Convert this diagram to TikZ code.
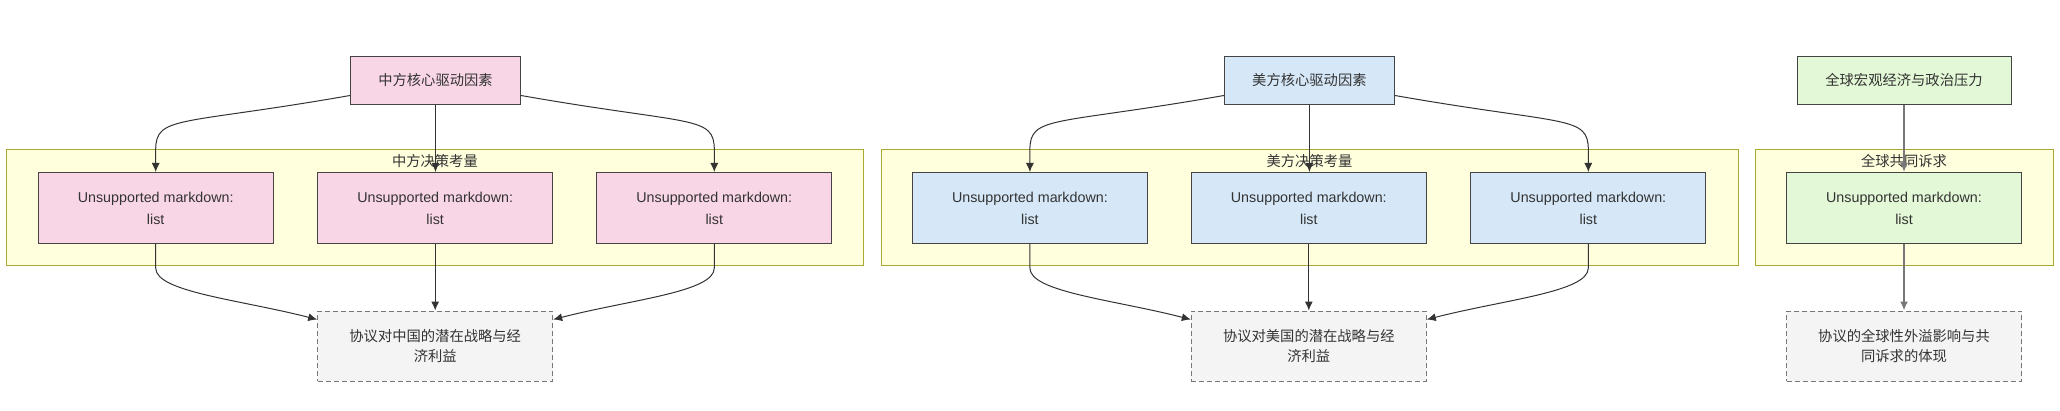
\documentclass[tikz,border=0pt]{standalone}
\usepackage{fontspec}
\setmainfont{Liberation Sans}
\newfontfamily\cjk{Noto Sans CJK SC}
\usetikzlibrary{arrows.meta,calc}
\definecolor{pinkfill}{HTML}{F9D6E6}
\definecolor{bluefill}{HTML}{D6E8F8}
\definecolor{greenfill}{HTML}{E3F8D6}
\definecolor{greyfill}{HTML}{F4F4F4}
\definecolor{clusterfill}{HTML}{FFFFDE}
\definecolor{clusterline}{HTML}{AAAA33}
\definecolor{nodeline}{HTML}{444444}
\definecolor{txt}{HTML}{333333}
\definecolor{edgeline}{HTML}{333333}
\definecolor{edgegrey}{HTML}{777777}
\tikzset{
  basebox/.style={rectangle, draw=nodeline, line width=0.5pt, inner sep=0pt, text=txt,
    font=\fontsize{7.15pt}{11pt}\selectfont, align=center},
  topbox/.style={basebox, minimum width=85pt, minimum height=24pt},
  listbox/.style={basebox, minimum width=117.5pt, minimum height=35.5pt},
  resultbox/.style={basebox, draw=edgegrey, dashed, dash pattern=on 2.5pt off 1.5pt, fill=greyfill,
    minimum width=117.5pt, minimum height=35pt, font=\fontsize{7.15pt}{10pt}\selectfont},
  clusterbox/.style={draw=clusterline, fill=clusterfill, line width=0.5pt},
  clusterlabel/.style={text=txt, font=\cjk\fontsize{7.15pt}{9pt}\selectfont, inner sep=0pt},
  edge/.style={draw=edgeline, line width=0.5pt, -{Latex[length=4.5pt,width=4pt]}},
  greyedge/.style={draw=edgegrey, line width=0.9pt, -{Latex[length=4.5pt,width=4pt]}},
}
\begin{document}
\begin{tikzpicture}[x=0.5pt,y=0.5pt]
\useasboundingbox (0,0) rectangle (2060,-411);
% clusters
\draw[clusterbox] (6.7,-150) rectangle (863,-266);
\node[clusterlabel] (c1) at (434.9,-160.7) {中方决策考量};
\draw[clusterbox] (881,-150) rectangle (1738,-266);
\node[clusterlabel] (c2) at (1309.5,-160.7) {美方决策考量};
\draw[clusterbox] (1755,-150) rectangle (2053,-266);
\node[clusterlabel] (c3) at (1904,-160.7) {全球共同诉求};
% column 1
\node[topbox, fill=pinkfill, font=\cjk\fontsize{7.15pt}{11pt}\selectfont] (A) at (435.5,-80.5) {中方核心驱动因素};
\node[listbox, fill=pinkfill] (a1) at (155.7,-208) {Unsupported markdown:\\list};
\node[listbox, fill=pinkfill] (a2) at (435.2,-208) {Unsupported markdown:\\list};
\node[listbox, fill=pinkfill] (a3) at (714.3,-208) {Unsupported markdown:\\list};
\node[resultbox, font=\cjk\fontsize{7.15pt}{10pt}\selectfont] (AB) at (435.2,-346) {协议对中国的潜在战略与经\\济利益};
% column 2
\node[topbox, fill=bluefill, font=\cjk\fontsize{7.15pt}{11pt}\selectfont] (B) at (1309.4,-80.5) {美方核心驱动因素};
\node[listbox, fill=bluefill] (b1) at (1029.9,-208) {Unsupported markdown:\\list};
\node[listbox, fill=bluefill] (b2) at (1308.8,-208) {Unsupported markdown:\\list};
\node[listbox, fill=bluefill] (b3) at (1588.3,-208) {Unsupported markdown:\\list};
\node[resultbox, font=\cjk\fontsize{7.15pt}{10pt}\selectfont] (BB) at (1308.8,-346) {协议对美国的潜在战略与经\\济利益};
% column 3
\node[topbox, fill=greenfill, minimum width=107pt, font=\cjk\fontsize{7.15pt}{11pt}\selectfont] (G) at (1904,-80.5) {全球宏观经济与政治压力};
\node[listbox, fill=greenfill] (g1) at (1904,-208) {Unsupported markdown:\\list};
\node[resultbox, font=\cjk\fontsize{7.15pt}{10pt}\selectfont] (GB) at (1904,-346) {协议的全球性外溢影响与共\\同诉求的体现};
% edges column 1
\draw[edge] ([yshift=4.75pt]A.south west) .. controls +(-171,-30) and +(0,35) .. ([yshift=11pt]a1.north) -- (a1.north);
\draw[edge] (A.south) -- (A.south |- a2.north);
\draw[edge] ([yshift=4.75pt]A.south east) .. controls +(171,-30) and +(0,35) .. ([yshift=11pt]a3.north) -- (a3.north);
\draw[edge] (a1.south) -- ([yshift=-12pt]a1.south) .. controls +(0,-24) and +(-78,20) .. ([yshift=-4.5pt]AB.north west);
\draw[edge] (a2.south) -- (AB.north);
\draw[edge] (a3.south) -- ([yshift=-12pt]a3.south) .. controls +(0,-24) and +(78,20) .. ([yshift=-4.5pt]AB.north east);
% edges column 2
\draw[edge] ([yshift=4.75pt]B.south west) .. controls +(-171,-30) and +(0,35) .. ([yshift=11pt]b1.north) -- (b1.north);
\draw[edge] (B.south) -- (B.south |- b2.north);
\draw[edge] ([yshift=4.75pt]B.south east) .. controls +(171,-30) and +(0,35) .. ([yshift=11pt]b3.north) -- (b3.north);
\draw[edge] (b1.south) -- ([yshift=-12pt]b1.south) .. controls +(0,-24) and +(-78,20) .. ([yshift=-4.5pt]BB.north west);
\draw[edge] (b2.south) -- (BB.north);
\draw[edge] (b3.south) -- ([yshift=-12pt]b3.south) .. controls +(0,-24) and +(78,20) .. ([yshift=-4.5pt]BB.north east);
% edges column 3
\draw[greyedge] (G.south) -- (g1.north);
\draw[greyedge] (g1.south) -- (GB.north);
\end{tikzpicture}
\end{document}
